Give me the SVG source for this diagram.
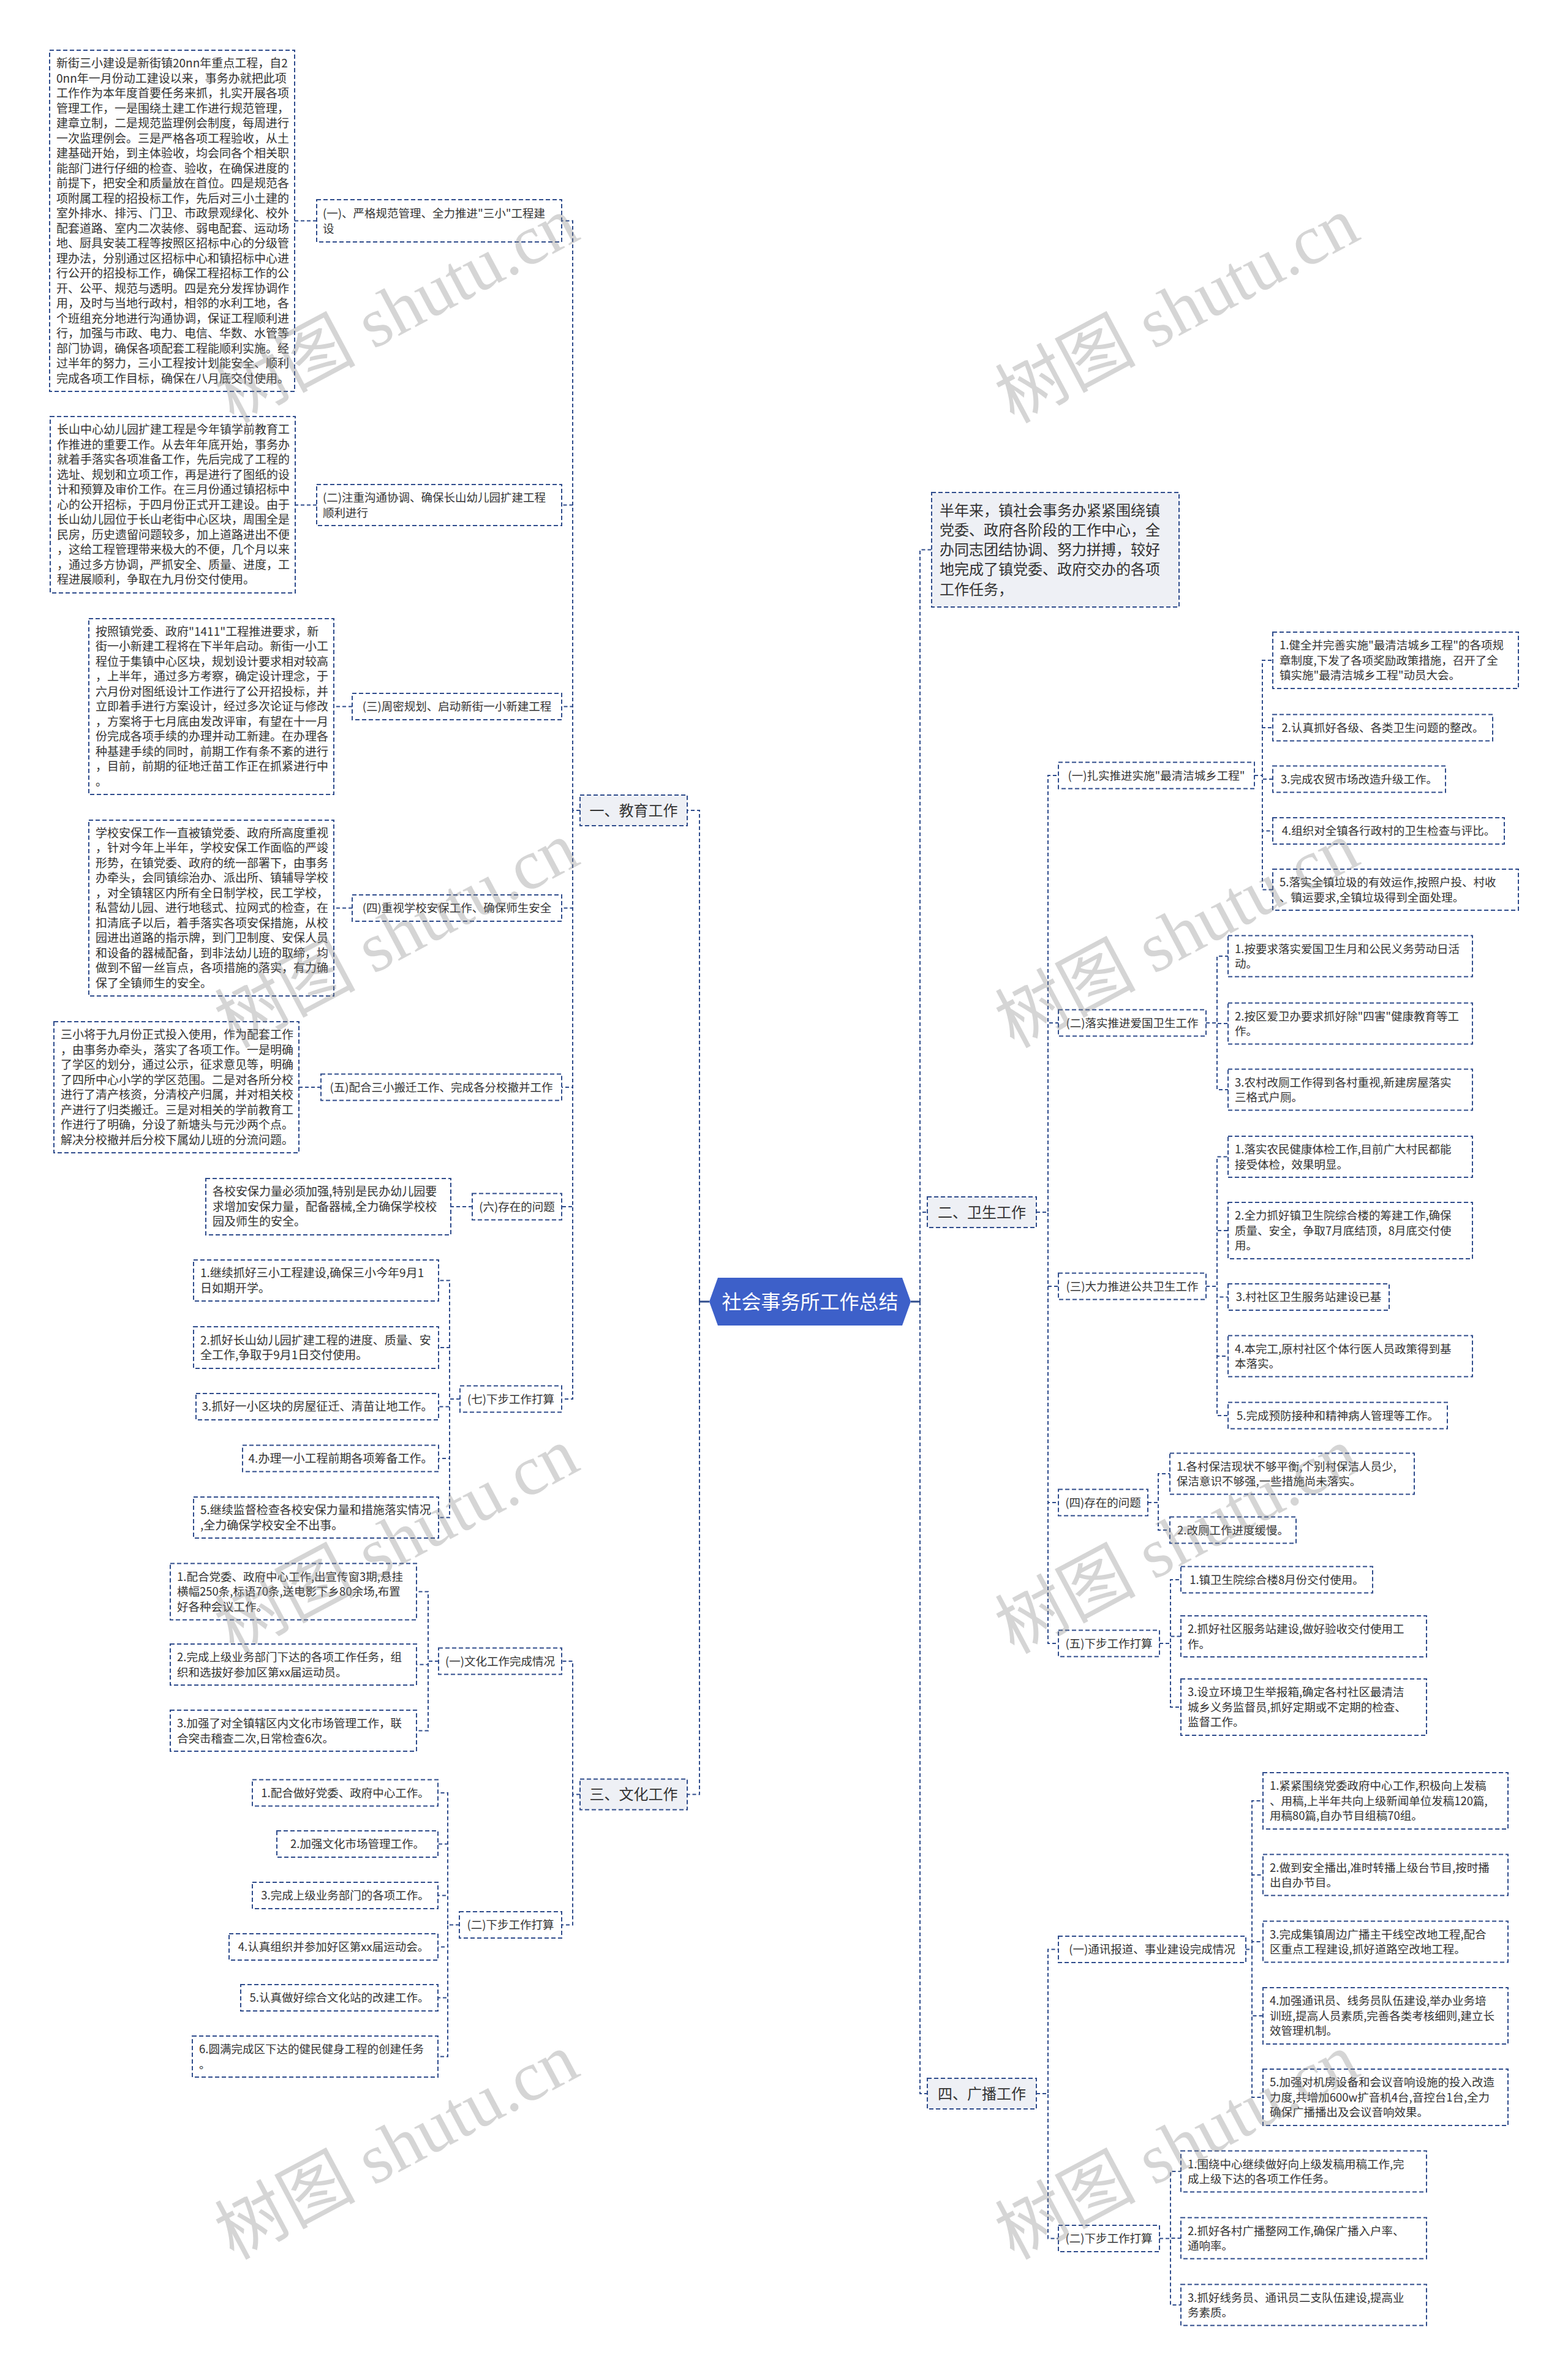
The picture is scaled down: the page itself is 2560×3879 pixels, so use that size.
<svg xmlns="http://www.w3.org/2000/svg" width="2560" height="3879" viewBox="0 0 2560 3879">
<style>
.t{font-family:"Noto Sans CJK SC","Microsoft YaHei",sans-serif;font-size:18.5px;fill:#333}
.t19{font-size:19px}
.c{text-anchor:middle}
.bt{font-family:"Noto Sans CJK SC",sans-serif;font-size:24px;fill:#333}
.mt{font-family:"Noto Sans CJK SC",sans-serif;font-size:32px;fill:#fff;text-anchor:middle}
.n{fill:#fff;stroke:#2f4c8c;stroke-width:2;stroke-dasharray:7 4}
.b{fill:#eef0f5;stroke:#2f4c8c;stroke-width:2;stroke-dasharray:7 4}
.l{fill:none;stroke:#2f4c8c;stroke-width:2;stroke-dasharray:6 4}
.s{fill:none;stroke:#2f4c8c;stroke-width:3}
.wm{font-family:"Liberation Serif","Noto Sans CJK SC",serif;font-size:115px;fill:#888;fill-opacity:0.35}
</style>
<rect width="2560" height="3879" fill="#fff"/>

<g id="connectors">
<path class="s" d="M1158,2125H1142M1487,2125H1502"/>
<path class="l" d="M1142,2125V1323H1122M1142,2125V2929.5H1122"/>
<path class="l" d="M1502,2125V897.5H1521M1502,2125V1979H1514M1502,2125V3418H1514"/>
<path class="l" d="M947,1323H935V360.5H917M947,1323H935V824.5H917M947,1323H935V1153.5H917M947,1323H935V1482.5H917M947,1323H935V1775H917M947,1323H935V1970H917M947,1323H935V2284H917"/>
<path class="l" d="M517,360.5H481M517,824.5H482M575,1153.5H545M575,1482.5H545M524,1775H488M771,1970H736"/>
<path class="l" d="M751,2284H734V2090.5H716M751,2284H734V2200H716M751,2284H734V2296.5H716M751,2284H734V2381H716M751,2284H734V2477.5H716"/>
<path class="l" d="M947,2929.5H935V2712H917M947,2929.5H935V3142.5H917"/>
<path class="l" d="M716,2712H699V2598.5H680M716,2712H699V2717.5H680M716,2712H699V2825.5H680"/>
<path class="l" d="M750,3142.5H731V2927H715M750,3142.5H731V3010.5H715M750,3142.5H731V3094.5H715M750,3142.5H731V3178.5H715M750,3142.5H731V3261.5H715M750,3142.5H731V3357.5H715"/>
<path class="l" d="M1692,1979H1711V1266H1728M1692,1979H1711V1670H1728M1692,1979H1711V2100H1728M1692,1979H1711V2453H1728M1692,1979H1711V2683H1728"/>
<path class="l" d="M2048,1266H2061V1078H2078M2048,1266H2061V1188H2078M2048,1266H2061V1272H2078M2048,1266H2061V1356.5H2078M2048,1266H2061V1452.5H2078"/>
<path class="l" d="M1969,1670H1987V1561H2005M1969,1670H1987V1671H2005M1969,1670H1987V1779H2005"/>
<path class="l" d="M1969,2100H1987V1888.5H2005M1969,2100H1987V2009H2005M1969,2100H1987V2117.5H2005M1969,2100H1987V2214H2005M1969,2100H1987V2311H2005"/>
<path class="l" d="M1874,2453H1891V2406H1910M1874,2453H1891V2498H1910"/>
<path class="l" d="M1893,2683H1911V2579H1928M1893,2683H1911V2671.5H1928M1893,2683H1911V2787H1928"/>
<path class="l" d="M1692,3418H1711V3182.5H1728M1692,3418H1711V3654.5H1728"/>
<path class="l" d="M2034,3182.5H2044V2940H2062M2034,3182.5H2044V3061H2062M2034,3182.5H2044V3170H2062M2034,3182.5H2044V3291H2062M2034,3182.5H2044V3424H2062"/>
<path class="l" d="M1893,3654.5H1911V3545H1928M1893,3654.5H1911V3654H1928M1893,3654.5H1911V3763H1928"/>
</g>

<g id="root">
<polygon points="1158,2125 1172,2086 1473,2086 1487,2125 1473,2164 1172,2164" fill="#3d60c9"/>
<text class="mt" x="1322.5" y="2136.5">社会事务所工作总结</text>
</g>

<g id="intro">
<rect class="b" x="1521" y="804" width="404" height="187"/>
<text class="bt" x="1534" y="841.7"><tspan x="1534">半年来，镇社会事务办紧紧围绕镇</tspan><tspan x="1534" dy="32.2">党委、政府各阶段的工作中心，全</tspan><tspan x="1534" dy="32.2">办同志团结协调、努力拼搏，较好</tspan><tspan x="1534" dy="32.2">地完成了镇党委、政府交办的各项</tspan><tspan x="1534" dy="32.2">工作任务，</tspan></text>
</g>

<g id="edu">
<rect class="b" x="947" y="1298" width="175" height="50"/>
<text class="bt c" x="1034.5" y="1331.7">一、教育工作</text>
</g>
<g id="culture">
<rect class="b" x="947" y="2904.5" width="175" height="50"/>
<text class="bt c" x="1034.5" y="2938">三、文化工作</text>
</g>
<g id="health">
<rect class="b" x="1514" y="1954" width="178" height="50"/>
<text class="bt c" x="1603" y="1987.6">二、卫生工作</text>
</g>
<g id="radio">
<rect class="b" x="1514" y="3393" width="178" height="50"/>
<text class="bt c" x="1603" y="3426.6">四、广播工作</text>
</g>

<g id="edu-1">
<rect class="n" x="517" y="326" width="400" height="69"/>
<text class="t" x="527" y="355"><tspan x="527">(一)、严格规范管理、全力推进"三小"工程建</tspan><tspan x="527" dy="24.5">设</tspan></text>
</g>
<g id="edu-1-a">
<rect class="n" x="81" y="82" width="400" height="557"/>
<text class="t t19" x="92" y="110"><tspan x="92">新街三小建设是新街镇20nn年重点工程，自2</tspan><tspan x="92" dy="24.5">0nn年一月份动工建设以来，事务办就把此项</tspan><tspan x="92" dy="24.5">工作作为本年度首要任务来抓，扎实开展各项</tspan><tspan x="92" dy="24.5">管理工作，一是围绕土建工作进行规范管理，</tspan><tspan x="92" dy="24.5">建章立制，二是规范监理例会制度，每周进行</tspan><tspan x="92" dy="24.5">一次监理例会。三是严格各项工程验收，从土</tspan><tspan x="92" dy="24.5">建基础开始，到主体验收，均会同各个相关职</tspan><tspan x="92" dy="24.5">能部门进行仔细的检查、验收，在确保进度的</tspan><tspan x="92" dy="24.5">前提下，把安全和质量放在首位。四是规范各</tspan><tspan x="92" dy="24.5">项附属工程的招投标工作，先后对三小土建的</tspan><tspan x="92" dy="24.5">室外排水、排污、门卫、市政景观绿化、校外</tspan><tspan x="92" dy="24.5">配套道路、室内二次装修、弱电配套、运动场</tspan><tspan x="92" dy="24.5">地、厨具安装工程等按照区招标中心的分级管</tspan><tspan x="92" dy="24.5">理办法，分别通过区招标中心和镇招标中心进</tspan><tspan x="92" dy="24.5">行公开的招投标工作，确保工程招标工作的公</tspan><tspan x="92" dy="24.5">开、公平、规范与透明。四是充分发挥协调作</tspan><tspan x="92" dy="24.5">用，及时与当地行政村，相邻的水利工地，各</tspan><tspan x="92" dy="24.5">个班组充分地进行沟通协调，保证工程顺利进</tspan><tspan x="92" dy="24.5">行，加强与市政、电力、电信、华数、水管等</tspan><tspan x="92" dy="24.5">部门协调，确保各项配套工程能顺利实施。经</tspan><tspan x="92" dy="24.5">过半年的努力，三小工程按计划能安全、顺利</tspan><tspan x="92" dy="24.5">完成各项工作目标，确保在八月底交付使用。</tspan></text>
</g>

<g id="edu-2">
<rect class="n" x="517" y="791" width="400" height="67"/>
<text class="t" x="527" y="819"><tspan x="527">(二)注重沟通协调、确保长山幼儿园扩建工程</tspan><tspan x="527" dy="24.5">顺利进行</tspan></text>
</g>
<g id="edu-2-a">
<rect class="n" x="82" y="680" width="400" height="288"/>
<text class="t t19" x="93" y="708.2"><tspan x="93">长山中心幼儿园扩建工程是今年镇学前教育工</tspan><tspan x="93" dy="24.5">作推进的重要工作。从去年年底开始，事务办</tspan><tspan x="93" dy="24.5">就着手落实各项准备工作，先后完成了工程的</tspan><tspan x="93" dy="24.5">选址、规划和立项工作，再是进行了图纸的设</tspan><tspan x="93" dy="24.5">计和预算及审价工作。在三月份通过镇招标中</tspan><tspan x="93" dy="24.5">心的公开招标，于四月份正式开工建设。由于</tspan><tspan x="93" dy="24.5">长山幼儿园位于长山老街中心区块，周围全是</tspan><tspan x="93" dy="24.5">民房，历史遗留问题较多，加上道路进出不便</tspan><tspan x="93" dy="24.5">，这给工程管理带来极大的不便，几个月以来</tspan><tspan x="93" dy="24.5">，通过多方协调，严抓安全、质量、进度，工</tspan><tspan x="93" dy="24.5">程进展顺利，争取在九月份交付使用。</tspan></text>
</g>

<g id="edu-3">
<rect class="n" x="575" y="1132" width="342" height="43"/>
<text class="t c" x="746" y="1160.2">(三)周密规划、启动新街一小新建工程</text>
</g>
<g id="edu-3-a">
<rect class="n" x="145" y="1010" width="400" height="287"/>
<text class="t t19" x="156" y="1037.7"><tspan x="156">按照镇党委、政府"1411"工程推进要求，新</tspan><tspan x="156" dy="24.5">街一小新建工程将在下半年启动。新街一小工</tspan><tspan x="156" dy="24.5">程位于集镇中心区块，规划设计要求相对较高</tspan><tspan x="156" dy="24.5">，上半年，通过多方考察，确定设计理念，于</tspan><tspan x="156" dy="24.5">六月份对图纸设计工作进行了公开招投标，并</tspan><tspan x="156" dy="24.5">立即着手进行方案设计，经过多次论证与修改</tspan><tspan x="156" dy="24.5">，方案将于七月底由发改评审，有望在十一月</tspan><tspan x="156" dy="24.5">份完成各项手续的办理并动工新建。在办理各</tspan><tspan x="156" dy="24.5">种基建手续的同时，前期工作有条不紊的进行</tspan><tspan x="156" dy="24.5">，目前，前期的征地迁苗工作正在抓紧进行中</tspan><tspan x="156" dy="24.5">。</tspan></text>
</g>

<g id="edu-4">
<rect class="n" x="575" y="1461" width="342" height="43"/>
<text class="t c" x="746" y="1489.2">(四)重视学校安保工作、确保师生安全</text>
</g>
<g id="edu-4-a">
<rect class="n" x="145" y="1339" width="400" height="287"/>
<text class="t t19" x="156" y="1366.7"><tspan x="156">学校安保工作一直被镇党委、政府所高度重视</tspan><tspan x="156" dy="24.5">，针对今年上半年，学校安保工作面临的严竣</tspan><tspan x="156" dy="24.5">形势，在镇党委、政府的统一部署下，由事务</tspan><tspan x="156" dy="24.5">办牵头，会同镇综治办、派出所、镇辅导学校</tspan><tspan x="156" dy="24.5">，对全镇辖区内所有全日制学校，民工学校，</tspan><tspan x="156" dy="24.5">私营幼儿园、进行地毯式、拉网式的检查，在</tspan><tspan x="156" dy="24.5">扣清底子以后，着手落实各项安保措施，从校</tspan><tspan x="156" dy="24.5">园进出道路的指示牌，到门卫制度、安保人员</tspan><tspan x="156" dy="24.5">和设备的器械配备，到非法幼儿班的取缔，均</tspan><tspan x="156" dy="24.5">做到不留一丝盲点，各项措施的落实，有力确</tspan><tspan x="156" dy="24.5">保了全镇师生的安全。</tspan></text>
</g>

<g id="edu-5">
<rect class="n" x="524" y="1753.5" width="393" height="43"/>
<text class="t c" x="720.5" y="1781.7">(五)配合三小搬迁工作、完成各分校撤并工作</text>
</g>
<g id="edu-5-a">
<rect class="n" x="88" y="1668" width="400" height="214"/>
<text class="t t19" x="99" y="1696"><tspan x="99">三小将于九月份正式投入使用，作为配套工作</tspan><tspan x="99" dy="24.5">，由事务办牵头，落实了各项工作。一是明确</tspan><tspan x="99" dy="24.5">了学区的划分，通过公示，征求意见等，明确</tspan><tspan x="99" dy="24.5">了四所中心小学的学区范围。二是对各所分校</tspan><tspan x="99" dy="24.5">进行了清产核资，分清校产归属，并对相关校</tspan><tspan x="99" dy="24.5">产进行了归类搬迁。三是对相关的学前教育工</tspan><tspan x="99" dy="24.5">作进行了明确，分设了新塘头与元沙两个点。</tspan><tspan x="99" dy="24.5">解决分校撤并后分校下属幼儿班的分流问题。</tspan></text>
</g>

<g id="edu-6">
<rect class="n" x="771" y="1948.5" width="146" height="43"/>
<text class="t c" x="844" y="1976.7">(六)存在的问题</text>
</g>
<g id="edu-6-a">
<rect class="n" x="336" y="1924" width="400" height="92"/>
<text class="t t19" x="347" y="1952.2"><tspan x="347">各校安保力量必须加强,特别是民办幼儿园要</tspan><tspan x="347" dy="24.5">求增加安保力量，配备器械,全力确保学校校</tspan><tspan x="347" dy="24.5">园及师生的安全。</tspan></text>
</g>

<g id="edu-7">
<rect class="n" x="751" y="2262.5" width="166" height="43"/>
<text class="t c" x="834" y="2290.7">(七)下步工作打算</text>
</g>
<g id="edu-7-1">
<rect class="n" x="316" y="2057" width="400" height="67"/>
<text class="t t19" x="327" y="2085"><tspan x="327">1.继续抓好三小工程建设,确保三小今年9月1</tspan><tspan x="327" dy="24.5">日如期开学。</tspan></text>
</g>
<g id="edu-7-2">
<rect class="n" x="316" y="2166" width="400" height="68"/>
<text class="t t19" x="327" y="2194.5"><tspan x="327">2.抓好长山幼儿园扩建工程的进度、质量、安</tspan><tspan x="327" dy="24.5">全工作,争取于9月1日交付使用。</tspan></text>
</g>
<g id="edu-7-3">
<rect class="n" x="320" y="2275" width="396" height="43"/>
<text class="t t19 c" x="518" y="2303.2">3.抓好一小区块的房屋征迁、清苗让地工作。</text>
</g>
<g id="edu-7-4">
<rect class="n" x="396" y="2359.5" width="320" height="43"/>
<text class="t t19 c" x="556" y="2387.7">4.办理一小工程前期各项筹备工作。</text>
</g>
<g id="edu-7-5">
<rect class="n" x="316" y="2444" width="400" height="67"/>
<text class="t t19" x="327" y="2472"><tspan x="327">5.继续监督检查各校安保力量和措施落实情况</tspan><tspan x="327" dy="24.5">,全力确保学校安全不出事。</tspan></text>
</g>

<g id="cul-1">
<rect class="n" x="716" y="2690.5" width="201" height="43"/>
<text class="t c" x="816.5" y="2718.7">(一)文化工作完成情况</text>
</g>
<g id="cul-1-1">
<rect class="n" x="278" y="2552.5" width="402" height="92"/>
<text class="t" x="289" y="2580.7"><tspan x="289">1.配合党委、政府中心工作,出宣传窗3期,悬挂</tspan><tspan x="289" dy="24.5">横幅250条,标语70条,送电影下乡80余场,布置</tspan><tspan x="289" dy="24.5">好各种会议工作。</tspan></text>
</g>
<g id="cul-1-2">
<rect class="n" x="278" y="2684" width="402" height="67"/>
<text class="t" x="289" y="2712"><tspan x="289">2.完成上级业务部门下达的各项工作任务，组</tspan><tspan x="289" dy="24.5">织和选拔好参加区第xx届运动员。</tspan></text>
</g>
<g id="cul-1-3">
<rect class="n" x="278" y="2792" width="402" height="67"/>
<text class="t" x="289" y="2820"><tspan x="289">3.加强了对全镇辖区内文化市场管理工作，联</tspan><tspan x="289" dy="24.5">合突击稽查二次,日常检查6次。</tspan></text>
</g>

<g id="cul-2">
<rect class="n" x="750" y="3121" width="167" height="43"/>
<text class="t c" x="833.5" y="3149.2">(二)下步工作打算</text>
</g>
<g id="cul-2-1">
<rect class="n" x="412" y="2905.5" width="303" height="43"/>
<text class="t c" x="563.5" y="2933.7">1.配合做好党委、政府中心工作。</text>
</g>
<g id="cul-2-2">
<rect class="n" x="452" y="2989" width="263" height="43"/>
<text class="t c" x="583.5" y="3017.2">2.加强文化市场管理工作。</text>
</g>
<g id="cul-2-3">
<rect class="n" x="412" y="3073" width="303" height="43"/>
<text class="t c" x="563.5" y="3101.2">3.完成上级业务部门的各项工作。</text>
</g>
<g id="cul-2-4">
<rect class="n" x="374" y="3157" width="341" height="43"/>
<text class="t c" x="544.5" y="3185.2">4.认真组织并参加好区第xx届运动会。</text>
</g>
<g id="cul-2-5">
<rect class="n" x="393" y="3240" width="322" height="43"/>
<text class="t c" x="554" y="3268.2">5.认真做好综合文化站的改建工作。</text>
</g>
<g id="cul-2-6">
<rect class="n" x="314" y="3324" width="401" height="67"/>
<text class="t" x="325" y="3352"><tspan x="325">6.圆满完成区下达的健民健身工程的创建任务</tspan><tspan x="325" dy="24.5">。</tspan></text>
</g>

<g id="hea-1">
<rect class="n" x="1728" y="1244.5" width="320" height="43"/>
<text class="t c" x="1888" y="1272.7">(一)扎实推进实施"最清洁城乡工程"</text>
</g>
<g id="hea-1-1">
<rect class="n" x="2078" y="1032" width="401" height="92"/>
<text class="t" x="2089" y="1060.2"><tspan x="2089">1.健全并完善实施"最清洁城乡工程"的各项规</tspan><tspan x="2089" dy="24.5">章制度,下发了各项奖励政策措施，召开了全</tspan><tspan x="2089" dy="24.5">镇实施"最清洁城乡工程"动员大会。</tspan></text>
</g>
<g id="hea-1-2">
<rect class="n" x="2078" y="1166.5" width="359" height="43"/>
<text class="t c" x="2257.5" y="1194.7">2.认真抓好各级、各类卫生问题的整改。</text>
</g>
<g id="hea-1-3">
<rect class="n" x="2078" y="1250.5" width="282" height="43"/>
<text class="t c" x="2219" y="1278.7">3.完成农贸市场改造升级工作。</text>
</g>
<g id="hea-1-4">
<rect class="n" x="2078" y="1335" width="378" height="43"/>
<text class="t c" x="2267" y="1363.2">4.组织对全镇各行政村的卫生检查与评比。</text>
</g>
<g id="hea-1-5">
<rect class="n" x="2078" y="1419" width="401" height="67"/>
<text class="t" x="2089" y="1447"><tspan x="2089">5.落实全镇垃圾的有效运作,按照户投、村收</tspan><tspan x="2089" dy="24.5">、镇运要求,全镇垃圾得到全面处理。</tspan></text>
</g>

<g id="hea-2">
<rect class="n" x="1728" y="1648.5" width="241" height="43"/>
<text class="t c" x="1848.5" y="1676.7">(二)落实推进爱国卫生工作</text>
</g>
<g id="hea-2-1">
<rect class="n" x="2005" y="1527.5" width="399" height="67"/>
<text class="t" x="2016" y="1555.5"><tspan x="2016">1.按要求落实爱国卫生月和公民义务劳动日活</tspan><tspan x="2016" dy="24.5">动。</tspan></text>
</g>
<g id="hea-2-2">
<rect class="n" x="2005" y="1637.5" width="399" height="67"/>
<text class="t" x="2016" y="1665.5"><tspan x="2016">2.按区爱卫办要求抓好除"四害"健康教育等工</tspan><tspan x="2016" dy="24.5">作。</tspan></text>
</g>
<g id="hea-2-3">
<rect class="n" x="2005" y="1745.5" width="399" height="67"/>
<text class="t" x="2016" y="1773.5"><tspan x="2016">3.农村改厕工作得到各村重视,新建房屋落实</tspan><tspan x="2016" dy="24.5">三格式户厕。</tspan></text>
</g>

<g id="hea-3">
<rect class="n" x="1728" y="2078.5" width="241" height="43"/>
<text class="t c" x="1848.5" y="2106.7">(三)大力推进公共卫生工作</text>
</g>
<g id="hea-3-1">
<rect class="n" x="2005" y="1855" width="399" height="67"/>
<text class="t" x="2016" y="1883"><tspan x="2016">1.落实农民健康体检工作,目前广大村民都能</tspan><tspan x="2016" dy="24.5">接受体检，效果明显。</tspan></text>
</g>
<g id="hea-3-2">
<rect class="n" x="2005" y="1963" width="399" height="92"/>
<text class="t" x="2016" y="1991.2"><tspan x="2016">2.全力抓好镇卫生院综合楼的筹建工作,确保</tspan><tspan x="2016" dy="24.5">质量、安全，争取7月底结顶，8月底交付使</tspan><tspan x="2016" dy="24.5">用。</tspan></text>
</g>
<g id="hea-3-3">
<rect class="n" x="2005" y="2096" width="263" height="43"/>
<text class="t c" x="2136.5" y="2124.2">3.村社区卫生服务站建设已基</text>
</g>
<g id="hea-3-4">
<rect class="n" x="2005" y="2180.5" width="399" height="67"/>
<text class="t" x="2016" y="2208.5"><tspan x="2016">4.本完工,原村社区个体行医人员政策得到基</tspan><tspan x="2016" dy="24.5">本落实。</tspan></text>
</g>
<g id="hea-3-5">
<rect class="n" x="2005" y="2289.5" width="358" height="43"/>
<text class="t c" x="2184" y="2317.7">5.完成预防接种和精神病人管理等工作。</text>
</g>

<g id="hea-4">
<rect class="n" x="1728" y="2431.5" width="146" height="43"/>
<text class="t c" x="1801" y="2459.7">(四)存在的问题</text>
</g>
<g id="hea-4-1">
<rect class="n" x="1910" y="2372.5" width="399" height="67"/>
<text class="t" x="1921" y="2400.5"><tspan x="1921">1.各村保洁现状不够平衡,个别村保洁人员少,</tspan><tspan x="1921" dy="24.5">保洁意识不够强,一些措施尚未落实。</tspan></text>
</g>
<g id="hea-4-2">
<rect class="n" x="1910" y="2476.5" width="206" height="43"/>
<text class="t c" x="2013" y="2504.7">2.改厕工作进度缓慢。</text>
</g>

<g id="hea-5">
<rect class="n" x="1728" y="2661.5" width="165" height="43"/>
<text class="t c" x="1810.5" y="2689.7">(五)下步工作打算</text>
</g>
<g id="hea-5-1">
<rect class="n" x="1928" y="2557.5" width="313" height="43"/>
<text class="t c" x="2084.5" y="2585.7">1.镇卫生院综合楼8月份交付使用。</text>
</g>
<g id="hea-5-2">
<rect class="n" x="1928" y="2638" width="401" height="67"/>
<text class="t" x="1939" y="2666"><tspan x="1939">2.抓好社区服务站建设,做好验收交付使用工</tspan><tspan x="1939" dy="24.5">作。</tspan></text>
</g>
<g id="hea-5-3">
<rect class="n" x="1928" y="2741" width="401" height="92"/>
<text class="t" x="1939" y="2769.2"><tspan x="1939">3.设立环境卫生举报箱,确定各村社区最清洁</tspan><tspan x="1939" dy="24.5">城乡义务监督员,抓好定期或不定期的检查、</tspan><tspan x="1939" dy="24.5">监督工作。</tspan></text>
</g>

<g id="rad-1">
<rect class="n" x="1728" y="3161" width="306" height="43"/>
<text class="t c" x="1881" y="3189.2">(一)通讯报道、事业建设完成情况</text>
</g>
<g id="rad-1-1">
<rect class="n" x="2062" y="2894" width="400" height="92"/>
<text class="t" x="2073" y="2922.2"><tspan x="2073">1.紧紧围绕党委政府中心工作,积极向上发稿</tspan><tspan x="2073" dy="24.5">、用稿,上半年共向上级新闻单位发稿120篇,</tspan><tspan x="2073" dy="24.5">用稿80篇,自办节目组稿70组。</tspan></text>
</g>
<g id="rad-1-2">
<rect class="n" x="2062" y="3027.5" width="400" height="67"/>
<text class="t" x="2073" y="3055.5"><tspan x="2073">2.做到安全播出,准时转播上级台节目,按时播</tspan><tspan x="2073" dy="24.5">出自办节目。</tspan></text>
</g>
<g id="rad-1-3">
<rect class="n" x="2062" y="3136.5" width="400" height="67"/>
<text class="t" x="2073" y="3164.5"><tspan x="2073">3.完成集镇周边广播主干线空改地工程,配合</tspan><tspan x="2073" dy="24.5">区重点工程建设,抓好道路空改地工程。</tspan></text>
</g>
<g id="rad-1-4">
<rect class="n" x="2062" y="3245" width="400" height="92"/>
<text class="t" x="2073" y="3273.2"><tspan x="2073">4.加强通讯员、线务员队伍建设,举办业务培</tspan><tspan x="2073" dy="24.5">训班,提高人员素质,完善各类考核细则,建立长</tspan><tspan x="2073" dy="24.5">效管理机制。</tspan></text>
</g>
<g id="rad-1-5">
<rect class="n" x="2062" y="3378" width="400" height="92"/>
<text class="t" x="2073" y="3406.2"><tspan x="2073">5.加强对机房设备和会议音响设施的投入改造</tspan><tspan x="2073" dy="24.5">力度,共增加600w扩音机4台,音控台1台,全力</tspan><tspan x="2073" dy="24.5">确保广播播出及会议音响效果。</tspan></text>
</g>

<g id="rad-2">
<rect class="n" x="1728" y="3633" width="165" height="43"/>
<text class="t c" x="1810.5" y="3661.2">(二)下步工作打算</text>
</g>
<g id="rad-2-1">
<rect class="n" x="1928" y="3511.5" width="401" height="67"/>
<text class="t" x="1939" y="3539.5"><tspan x="1939">1.围绕中心继续做好向上级发稿用稿工作,完</tspan><tspan x="1939" dy="24.5">成上级下达的各项工作任务。</tspan></text>
</g>
<g id="rad-2-2">
<rect class="n" x="1928" y="3620.5" width="401" height="67"/>
<text class="t" x="1939" y="3648.5"><tspan x="1939">2.抓好各村广播整网工作,确保广播入户率、</tspan><tspan x="1939" dy="24.5">通响率。</tspan></text>
</g>
<g id="rad-2-3">
<rect class="n" x="1928" y="3729.5" width="401" height="67"/>
<text class="t" x="1939" y="3757.5"><tspan x="1939">3.抓好线务员、通讯员二支队伍建设,提高业</tspan><tspan x="1939" dy="24.5">务素质。</tspan></text>
</g>

<g id="watermarks">
<text class="wm" text-anchor="middle" transform="translate(648,507) rotate(-28)" y="38">树图 shutu.cn</text>
<text class="wm" text-anchor="middle" transform="translate(1922,507) rotate(-28)" y="38">树图 shutu.cn</text>
<text class="wm" text-anchor="middle" transform="translate(648,1527) rotate(-28)" y="38">树图 shutu.cn</text>
<text class="wm" text-anchor="middle" transform="translate(1922,1527) rotate(-28)" y="38">树图 shutu.cn</text>
<text class="wm" text-anchor="middle" transform="translate(648,2516) rotate(-28)" y="38">树图 shutu.cn</text>
<text class="wm" text-anchor="middle" transform="translate(1922,2516) rotate(-28)" y="38">树图 shutu.cn</text>
<text class="wm" text-anchor="middle" transform="translate(648,3505) rotate(-28)" y="38">树图 shutu.cn</text>
<text class="wm" text-anchor="middle" transform="translate(1922,3505) rotate(-28)" y="38">树图 shutu.cn</text>
</g>
</svg>
